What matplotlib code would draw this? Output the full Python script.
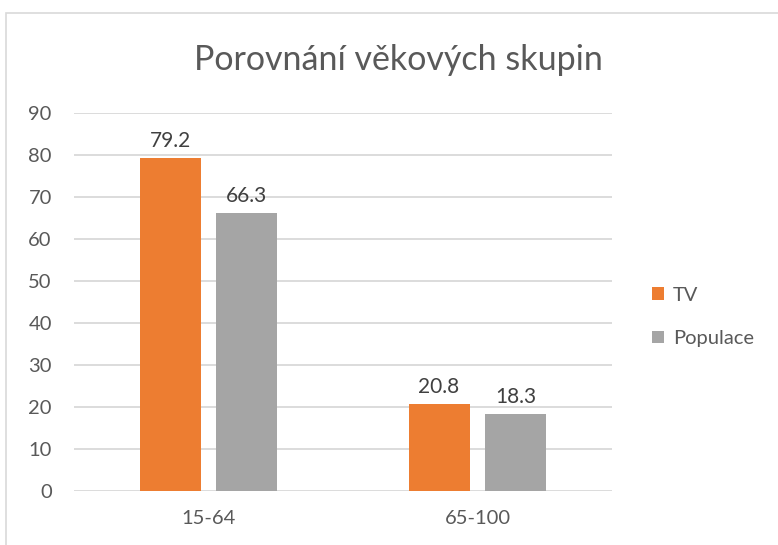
import matplotlib.pyplot as plt
from matplotlib.patches import Rectangle
import numpy as np

categories = ["15-64", "65-100"]
tv = [79.2, 20.8]
populace = [66.3, 18.3]
series_names = ["TV", "Populace"]
yticks = [0, 10, 20, 30, 40, 50, 60, 70, 80, 90]

plt.rcParams["font.family"] = ["Lato", "DejaVu Sans"]
txt = "#595959"
grid = "#D9D9D9"

fig = plt.figure(figsize=(7.78, 5.45), dpi=100)
W, H = 778, 545

# chart border (Excel style)
fig.patches.append(Rectangle((6 / W, -0.05), 1.1, 1 - 13 / H + 0.05,
                             transform=fig.transFigure, fill=False,
                             edgecolor=grid, linewidth=1.2))

ax = fig.add_axes([74 / W, 1 - 491 / H, (612 - 74) / W, (491 - 113) / H])
x = np.arange(len(categories))
w = 0.227
off = 0.143
b1 = ax.bar(x - off, tv, w, color="#ED7D31", label=series_names[0], zorder=3)
b2 = ax.bar(x + off, populace, w, color="#A5A5A5", label=series_names[1], zorder=3)

for bars, vals in ((b1, tv), (b2, populace)):
    for r, v in zip(bars, vals):
        ax.annotate(f"{v:.1f}", (r.get_x() + r.get_width() / 2, v),
                    xytext=(0, 5), textcoords="offset points",
                    ha="center", va="bottom", fontsize=15, color="#404040")

ax.set_xlim(-0.5, 1.5)
ax.set_ylim(0, 90)
ax.set_yticks(yticks)
ax.set_xticks(x)
ax.set_xticklabels(categories)
ax.grid(axis="y", color=grid, linewidth=1.3, zorder=0)
for s in ax.spines.values():
    s.set_visible(False)
ax.tick_params(length=0, labelsize=14.5, colors=txt, pad=16)
ax.tick_params(axis="x", pad=14)

fig.text(398 / W, 1 - 60 / H, "Porovnání věkových skupin", ha="center",
         va="center", fontsize=24.5, color=txt)

ax.legend(loc="center left", bbox_to_anchor=(652 / W, 1 - 317 / H),
          bbox_transform=fig.transFigure, frameon=False, fontsize=14.5,
          labelcolor=txt, handlelength=0.6, handleheight=0.6,
          handletextpad=0.45, labelspacing=1.3, borderpad=0,
          borderaxespad=0)

fig.savefig("out.png", dpi=100)
